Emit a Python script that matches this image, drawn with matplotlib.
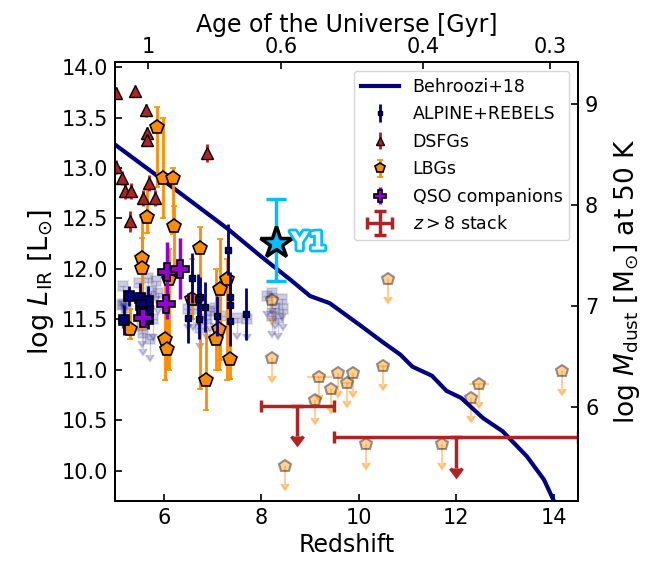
import numpy as np
import matplotlib
matplotlib.use('Agg')
from matplotlib import pyplot as plt
import matplotlib.patheffects as pe
from matplotlib.legend_handler import HandlerErrorbar

# Behroozi+18 curve
beh_z = [5.0, 5.7, 7.3, 8.0, 8.6, 9.0, 9.4, 10.0, 10.5, 10.85, 11.1, 11.5, 11.8, 12.1, 12.55, 12.95, 13.45, 13.8, 14.05]
beh_L = [13.23, 12.98, 12.40, 12.12, 11.89, 11.73, 11.66, 11.45, 11.27, 11.15, 11.03, 10.94, 10.79, 10.72, 10.52, 10.39, 10.14, 9.91, 9.65]

# ALPINE (big squares) and REBELS (small squares)
alp_z = [5.29, 5.18, 5.51, 5.68, 5.52, 5.68, 5.54, 5.68]
alp_L = [11.73, 11.49, 11.71, 11.68, 11.64, 11.58, 11.57, 11.50]
alp_e = [0.10, 0.15, 0.15, 0.15, 0.10, 0.10, 0.10, 0.10]
reb_z = [6.58, 7.31, 6.75, 6.84, 6.50, 6.72, 7.08, 7.36, 7.36, 7.36, 7.68, 6.70]
reb_L = [11.91, 12.19, 11.72, 11.62, 11.51, 11.50, 11.53, 11.72, 11.64, 11.48, 11.55, 11.70]
reb_e = [0.25, 0.25, 0.20, 0.25, 0.25, 0.20, 0.20, 0.25, 0.20, 0.25, 0.26, 0.25]

# ALPINE+REBELS non-detections (faint)
alp_lim_z = [5.15, 5.68, 5.83, 5.88, 5.13, 5.57, 5.71, 5.55, 5.23, 5.73, 5.77, 5.49, 5.16,
             6.60, 6.77, 6.94, 6.88, 7.05, 7.18, 7.49, 7.70, 6.74, 6.50,
             8.21, 8.42, 8.11, 8.28, 8.45, 8.35, 8.21]
alp_lim_L = [11.83, 11.91, 11.88, 11.76, 11.64, 11.36, 11.30, 11.43, 11.61, 11.78, 11.50, 11.86, 11.65,
             11.60, 11.68, 11.58, 11.50, 11.61, 11.53, 11.51, 11.50, 11.41, 11.60,
             11.76, 11.70, 11.73, 11.61, 11.60, 11.51, 11.53]

# DSFGs
dsfg_z = [5.01, 5.40, 5.63, 5.66, 5.66, 6.89, 5.01, 5.13, 5.20, 5.33, 5.70, 5.57, 5.81, 5.30]
dsfg_L = [13.74, 13.76, 13.57, 13.35, 13.28, 13.15, 13.01, 12.90, 12.77, 12.77, 12.85, 12.70, 12.70, 12.47]
dsfg_e = [0.06, 0.05, 0.06, 0.06, 0.06, 0.09, 0.07, 0.07, 0.08, 0.08, 0.08, 0.08, 0.08, 0.10]

# LBGs
lbg_z = [5.85, 5.99, 6.18, 5.66, 6.20, 5.54, 5.54, 6.74, 6.11, 7.30, 7.15, 6.58, 5.30, 7.13, 7.06, 6.03, 6.07, 7.35, 6.86]
lbg_L = [13.41, 12.90, 12.90, 12.51, 12.42, 12.11, 12.01, 12.21, 11.90, 11.90, 11.80, 11.70, 11.40, 11.40, 11.30, 11.30, 11.21, 11.11, 10.90]
lbg_lo = [0.60, 0.40, 0.55, 0.15, 0.40, 0.70, 0.60, 1.40, 0.90, 1.00, 0.70, 0.20, 0.10, 0.40, 0.30, 0.40, 0.20, 0.20, 0.30]
lbg_hi = [0.19, 0.60, 0.10, 0.30, 0.20, 0.40, 0.30, 0.20, 0.30, 0.20, 0.50, 0.40, 0.20, 0.30, 0.70, 0.60, 0.30, 0.50, 0.50]

# LBG non-detections (faint)
lbg_lim_z = [8.21, 10.60, 8.21, 9.19, 9.58, 9.87, 9.43, 9.75, 10.49, 9.10, 10.15, 8.49, 12.47, 12.30, 14.17, 11.70]
lbg_lim_L = [11.69, 11.90, 11.12, 10.93, 10.97, 10.97, 10.81, 10.87, 11.04, 10.70, 10.26, 10.05, 10.86, 10.72, 10.99, 10.26]
lbg_lim_xe = [0, 0, 0, 0.25, 0, 0, 0, 0.1, 0.1, 0, 0, 0, 0.2, 0, 0, 0]

# QSO companions
qso_z = [6.07, 6.33, 6.04, 5.56]
qso_L = [11.97, 12.00, 11.65, 11.51]
qso_lo = [0.47, 0.30, 0.10, 0.08]
qso_hi = [0.30, 0.31, 0.10, 0.08]

# z>8 stacks (upper limits)
stack_z = [8.74, 12.0]
stack_xe = [0.75, 2.5]
stack_L = [10.64, 10.33]

# Y1
y1_z = 8.31
y1_L = 12.26
y1_lo = 0.38
y1_hi = 0.43

age_ticks = [1, 0.6, 0.4, 0.3]


def age_to_z(t):
    # flat LCDM, H0=67.7, Om=0.31
    pref = 2.0 / (3.0 * np.sqrt(0.69)) * 977.8 / 67.7
    return (np.sinh(np.array(t) / pref) / np.sqrt(0.69 / 0.31)) ** (-2.0 / 3.0) - 1


plt.rcParams['font.family'] = 'DejaVu Sans'
fig = plt.figure(figsize=(6.51, 5.64), dpi=100)
ax = fig.add_axes([0.177, 0.112, 0.711, 0.778])

ax.plot(beh_z, beh_L, color='navy', lw=3, label='Behroozi+18', zorder=2)

ax.errorbar(alp_lim_z, alp_lim_L, xerr=0.08, yerr=0.15, uplims=True, fmt='s', ms=7,
            color='navy', mfc='navy', mec='gray', mew=1.5, alpha=0.2, elinewidth=1, capsize=0, zorder=1)
ax.errorbar(lbg_lim_z, lbg_lim_L, xerr=lbg_lim_xe, yerr=0.18, uplims=True, fmt='p', ms=9,
            color='darkorange', mfc='darkorange', mec='k', mew=1.5, alpha=0.4, elinewidth=1.5, capsize=0, zorder=1)

ax.errorbar(lbg_z, lbg_L, yerr=[lbg_lo, lbg_hi], fmt='p', ms=10, color='darkorange', mfc='darkorange',
            mec='k', mew=1.2, elinewidth=2, capsize=2, label='LBGs', zorder=3)
ax.errorbar(dsfg_z, dsfg_L, yerr=dsfg_e, fmt='^', ms=9, color='firebrick', mfc='firebrick',
            mec='k', mew=1.0, elinewidth=2, capsize=0, label='DSFGs', zorder=4)
ax.errorbar(alp_z, alp_L, yerr=alp_e, fmt='s', ms=7, color='navy', mfc='navy',
            mec='k', mew=1.2, elinewidth=2, capsize=0, zorder=4)
ax.errorbar(reb_z, reb_L, yerr=reb_e, fmt='s', ms=4, color='navy', mfc='navy',
            mec='k', mew=1.0, elinewidth=2, capsize=0, label='ALPINE+REBELS', zorder=4)
ax.errorbar(qso_z, qso_L, yerr=[qso_lo, qso_hi], fmt='P', ms=13, color='darkviolet', mfc='darkviolet',
            mec='k', mew=1.2, elinewidth=2.5, capsize=0, label='QSO companions', zorder=5)
ax.errorbar(stack_z, stack_L, xerr=stack_xe, yerr=0.3, uplims=True, fmt='none', color='firebrick',
            elinewidth=2.5, capsize=4, capthick=2.5, zorder=5)
# legend proxy for the stack (plain cross with caps)
stack_proxy = ax.errorbar([np.nan], [np.nan], xerr=1, yerr=1, fmt='none', color='firebrick',
                          elinewidth=2.5, capsize=4, capthick=2.5, label=r'$z>8$ stack')

ax.errorbar([y1_z], [y1_L], yerr=[[y1_lo], [y1_hi]], fmt='*', ms=24, color='deepskyblue', mfc='deepskyblue',
            mec='k', mew=2.5, elinewidth=2.5, capsize=7, capthick=2.5, zorder=6)
ax.text(8.6, y1_L, 'Y1', fontsize=18, fontweight='bold', color='white', va='center', ha='left',
        path_effects=[pe.withStroke(linewidth=4, foreground='deepskyblue')], zorder=7)

ax.set_xlim(5, 14.5)
ax.set_ylim(9.7, 14.05)
ax.set_xlabel('Redshift', fontsize=17)
ax.set_ylabel(r'log $L_{\rm IR}$ [L$_{\odot}$]', fontsize=19.5)
ax.tick_params(direction='in', labelsize=15, length=5, width=1.2, pad=5)

handles, labels = ax.get_legend_handles_labels()
order = ['Behroozi+18', 'ALPINE+REBELS', 'DSFGs', 'LBGs', 'QSO companions', r'$z>8$ stack']
hd = dict(zip(labels, handles))
ax.legend([hd[k] for k in order], order, loc='upper right', fontsize=12.5, markerscale=0.7,
          labelspacing=0.55, handlelength=2.2,
          handler_map={stack_proxy: HandlerErrorbar(xerr_size=0.7)})

ax2 = ax.twiny()
ax2.set_xlim(ax.get_xlim())
ax2.set_xticks(age_to_z(age_ticks))
ax2.set_xticklabels(['1', '0.6', '0.4', '0.3'])
ax2.set_xlabel('Age of the Universe [Gyr]', fontsize=17)
ax2.tick_params(direction='in', labelsize=15, length=5, width=1.2)

ax3 = ax.twinx()
ax3.set_ylim(9.7 - 4.63, 14.05 - 4.63)
ax3.set_yticks([6, 7, 8, 9])
ax3.set_ylabel(r'log $M_{\rm dust}$ [M$_{\odot}$] at 50 K', fontsize=19, labelpad=10)
ax3.tick_params(direction='in', labelsize=15, length=5, width=1.2, pad=5)

for a in [ax, ax2, ax3]:
    for s in a.spines.values():
        s.set_linewidth(1.2)

plt.savefig('out.png', dpi=100)
